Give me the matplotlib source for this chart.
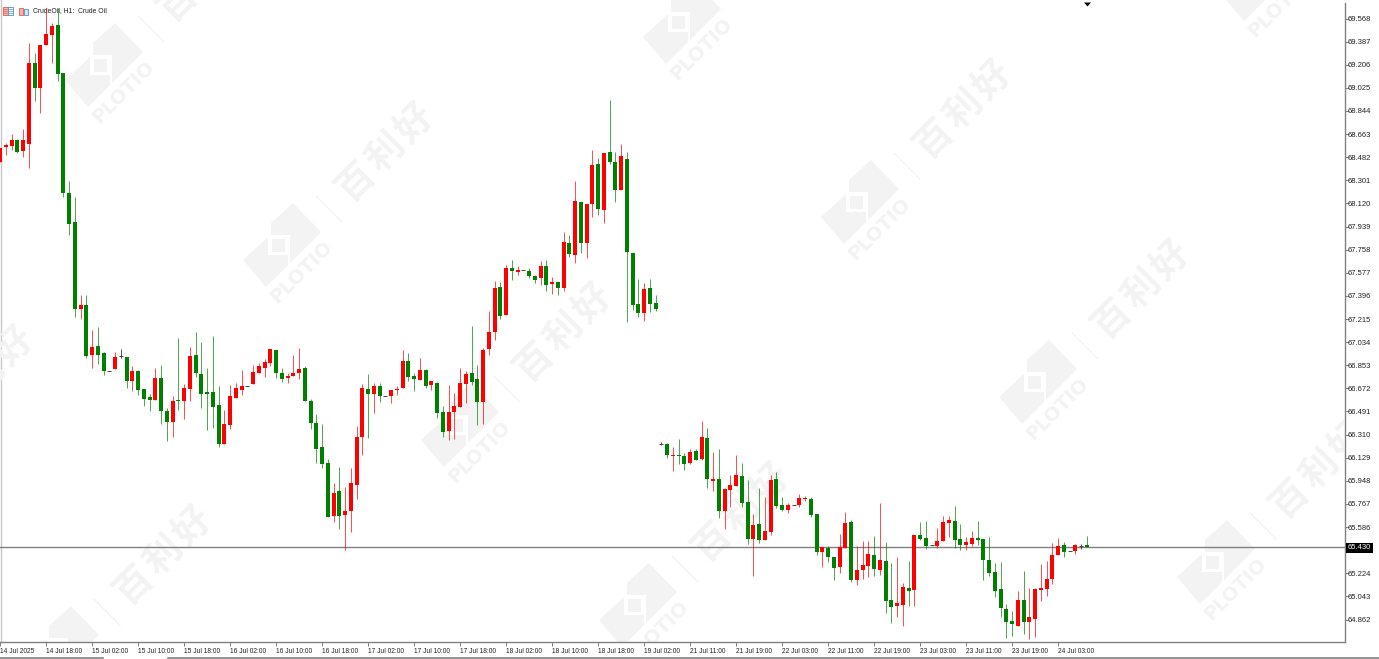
import matplotlib
matplotlib.use("Agg")
import matplotlib.pyplot as plt
from matplotlib.patches import Polygon, Rectangle

# OHLC of CrudeOil H1
opens = [
    68.445, 68.562, 68.570, 68.617, 68.531, 68.585, 69.220, 69.024, 69.361, 69.439,
    69.517, 69.141, 68.202, 67.975, 67.294, 67.325, 66.933, 67.004, 66.949, 66.808,
    66.824, 66.922, 66.918, 66.730, 66.808, 66.667, 66.605, 66.581, 66.753, 66.495,
    66.409, 66.581, 66.573, 66.667, 66.933, 66.785, 66.644, 66.644, 66.542, 66.236,
    66.385, 66.597, 66.659, 66.691, 66.706, 66.792, 66.832, 66.871, 66.973, 66.792,
    66.753, 66.769, 66.792, 66.832, 66.573, 66.401, 66.213, 66.088, 65.673, 65.869,
    65.681, 65.712, 65.915, 66.291, 66.667, 66.628, 66.691, 66.612, 66.612, 66.659,
    66.675, 66.886, 66.769, 66.738, 66.816, 66.698, 66.714, 66.487, 66.338, 66.487,
    66.526, 66.706, 66.792, 66.745, 66.565, 66.980, 67.113, 67.466, 67.246, 67.615,
    67.583, 67.599, 67.591, 67.552, 67.536, 67.630, 67.489, 67.505, 67.458, 67.810,
    67.716, 68.131, 67.810, 68.116, 68.429, 68.069, 68.523, 68.445, 68.225, 68.468,
    67.732, 67.333, 67.262, 67.458, 67.341, 66.236, 66.236, 66.143, 66.150, 66.143,
    66.088, 66.182, 66.119, 66.283, 65.947, 65.962, 65.712, 65.876, 65.908, 65.986,
    65.782, 65.493, 65.610, 65.485, 65.547, 65.962, 65.759, 65.720, 65.759, 65.759,
    65.806, 65.806, 65.688, 65.391, 65.422, 65.352, 65.273, 65.422, 65.626, 65.172,
    65.250, 65.281, 65.367, 65.250, 65.320, 65.015, 64.968, 64.976, 65.109, 65.093,
    65.524, 65.500, 65.446, 65.438, 65.477, 65.618, 65.634, 65.493, 65.446, 65.453,
    65.500, 65.493, 65.328, 65.234, 65.101, 64.944, 64.851, 64.811, 65.015, 64.843,
    64.866, 65.093, 65.101, 65.180, 65.367, 65.446, 65.399, 65.399, 65.438, 65.446,
]
highs = [
    68.554, 68.593, 68.664, 68.625, 68.703, 69.376, 69.298, 69.361, 69.650, 69.533,
    69.650, 69.141, 68.296, 68.170, 67.403, 67.403, 67.129, 67.153, 66.957, 66.808,
    66.957, 66.980, 66.918, 66.847, 66.816, 66.667, 66.628, 66.832, 66.855, 66.518,
    66.612, 67.066, 66.706, 66.996, 67.113, 67.035, 66.832, 67.082, 66.691, 66.503,
    66.698, 66.714, 66.816, 66.691, 66.855, 66.871, 66.902, 66.980, 66.973, 66.832,
    66.792, 66.933, 66.988, 66.847, 66.589, 66.471, 66.393, 66.119, 65.931, 66.056,
    65.900, 66.049, 66.377, 66.706, 66.785, 66.714, 66.714, 66.612, 66.659, 66.691,
    66.973, 66.949, 66.792, 66.910, 66.824, 66.730, 66.722, 66.534, 66.698, 66.636,
    66.832, 66.808, 67.160, 66.855, 66.988, 67.278, 67.513, 67.505, 67.638, 67.677,
    67.630, 67.599, 67.615, 67.560, 67.669, 67.677, 67.544, 67.505, 67.896, 67.873,
    68.296, 68.131, 68.116, 68.539, 68.476, 68.515, 68.930, 68.523, 68.585, 68.523,
    67.732, 67.528, 67.497, 67.528, 67.403, 66.252, 66.244, 66.213, 66.276, 66.166,
    66.197, 66.197, 66.417, 66.362, 66.174, 66.197, 65.892, 65.994, 66.150, 66.088,
    65.955, 65.688, 65.892, 65.821, 65.994, 66.017, 65.821, 65.775, 65.759, 65.845,
    65.829, 65.821, 65.688, 65.430, 65.438, 65.352, 65.532, 65.704, 65.641, 65.438,
    65.477, 65.477, 65.516, 65.775, 65.469, 65.305, 65.352, 65.148, 65.320, 65.524,
    65.626, 65.634, 65.446, 65.579, 65.673, 65.673, 65.751, 65.610, 65.508, 65.555,
    65.634, 65.493, 65.508, 65.305, 65.313, 64.984, 64.929, 65.086, 65.242, 65.109,
    65.109, 65.297, 65.320, 65.461, 65.500, 65.469, 65.399, 65.454, 65.454, 65.516,
]
lows = [
    68.445, 68.499, 68.539, 68.515, 68.484, 68.398, 68.922, 68.828, 69.361, 69.220,
    69.079, 68.170, 67.873, 67.231, 67.215, 66.910, 66.831, 66.863, 66.777, 66.808,
    66.824, 66.910, 66.675, 66.651, 66.620, 66.534, 66.495, 66.581, 66.393, 66.260,
    66.291, 66.503, 66.432, 66.573, 66.761, 66.518, 66.346, 66.362, 66.213, 66.236,
    66.354, 66.597, 66.620, 66.691, 66.706, 66.792, 66.761, 66.847, 66.753, 66.722,
    66.714, 66.769, 66.745, 66.573, 66.354, 66.088, 66.049, 65.665, 65.626, 65.571,
    65.406, 65.547, 65.806, 66.150, 66.283, 66.479, 66.565, 66.612, 66.557, 66.620,
    66.675, 66.730, 66.651, 66.738, 66.675, 66.659, 66.440, 66.291, 66.268, 66.276,
    66.526, 66.557, 66.698, 66.385, 66.393, 66.933, 67.051, 67.215, 67.246, 67.521,
    67.560, 67.599, 67.536, 67.497, 67.481, 67.434, 67.411, 67.403, 67.434, 67.701,
    67.654, 67.732, 67.693, 68.014, 68.030, 67.967, 68.429, 68.131, 68.225, 67.192,
    67.286, 67.231, 67.200, 67.270, 67.278, 66.229, 66.127, 66.025, 66.080, 66.033,
    66.080, 66.111, 66.111, 65.892, 65.868, 65.657, 65.571, 65.743, 65.908, 65.743,
    65.453, 65.203, 65.461, 65.485, 65.524, 65.735, 65.712, 65.696, 65.759, 65.743,
    65.790, 65.665, 65.367, 65.273, 65.313, 65.172, 65.226, 65.422, 65.156, 65.133,
    65.180, 65.195, 65.203, 65.211, 64.913, 64.835, 64.882, 64.811, 64.968, 64.968,
    65.485, 65.414, 65.446, 65.422, 65.477, 65.508, 65.422, 65.406, 65.406, 65.438,
    65.446, 65.172, 65.203, 65.038, 64.882, 64.717, 64.733, 64.811, 64.749, 64.710,
    64.725, 65.007, 65.046, 65.140, 65.367, 65.352, 65.399, 65.375, 65.414, 65.430,
]
closes = [
    68.554, 68.578, 68.617, 68.523, 68.617, 69.220, 69.024, 69.361, 69.447, 69.509,
    69.134, 68.202, 67.959, 67.294, 67.325, 66.926, 66.996, 66.933, 66.808, 66.808,
    66.918, 66.922, 66.730, 66.808, 66.659, 66.589, 66.581, 66.753, 66.495, 66.409,
    66.573, 66.573, 66.675, 66.926, 66.792, 66.628, 66.628, 66.526, 66.236, 66.393,
    66.612, 66.675, 66.691, 66.691, 66.800, 66.847, 66.879, 66.980, 66.792, 66.745,
    66.769, 66.792, 66.824, 66.573, 66.401, 66.197, 66.080, 65.665, 65.853, 65.673,
    65.712, 65.931, 66.291, 66.675, 66.628, 66.691, 66.612, 66.612, 66.659, 66.667,
    66.886, 66.761, 66.745, 66.816, 66.691, 66.730, 66.479, 66.330, 66.487, 66.534,
    66.714, 66.785, 66.722, 66.565, 66.973, 67.113, 67.458, 67.239, 67.615, 67.591,
    67.599, 67.599, 67.552, 67.521, 67.630, 67.481, 67.505, 67.458, 67.818, 67.724,
    68.139, 67.810, 68.116, 68.421, 68.077, 68.515, 68.445, 68.225, 68.492, 67.740,
    67.325, 67.262, 67.450, 67.333, 67.294, 66.236, 66.150, 66.150, 66.143, 66.080,
    66.174, 66.111, 66.291, 65.962, 65.962, 65.712, 65.884, 65.915, 65.994, 65.775,
    65.493, 65.602, 65.485, 65.555, 65.955, 65.751, 65.720, 65.759, 65.759, 65.814,
    65.814, 65.681, 65.391, 65.430, 65.352, 65.266, 65.430, 65.618, 65.172, 65.250,
    65.289, 65.375, 65.258, 65.328, 65.007, 64.960, 64.991, 65.117, 65.086, 65.524,
    65.493, 65.438, 65.446, 65.477, 65.626, 65.641, 65.485, 65.446, 65.469, 65.500,
    65.485, 65.328, 65.226, 65.086, 64.952, 64.843, 64.827, 65.015, 64.843, 64.882,
    65.101, 65.109, 65.180, 65.367, 65.438, 65.391, 65.399, 65.446, 65.438, 65.430,
]

price_ticks = [69.568, 69.387, 69.206, 69.025, 68.844, 68.663, 68.482, 68.301, 68.120,
               67.939, 67.758, 67.577, 67.396, 67.215, 67.034, 66.853, 66.672, 66.491,
               66.310, 66.129, 65.948, 65.767, 65.586, 65.405, 65.224, 65.043, 64.862]
time_labels = ["14 Jul 2025", "14 Jul 18:00", "15 Jul 02:00", "15 Jul 10:00", "15 Jul 18:00",
               "16 Jul 02:00", "16 Jul 10:00", "16 Jul 18:00", "17 Jul 02:00", "17 Jul 10:00",
               "17 Jul 18:00", "18 Jul 02:00", "18 Jul 10:00", "18 Jul 18:00", "19 Jul 02:00",
               "21 Jul 11:00", "21 Jul 19:00", "22 Jul 03:00", "22 Jul 11:00", "22 Jul 19:00",
               "23 Jul 03:00", "23 Jul 11:00", "23 Jul 19:00", "24 Jul 03:00"]
last_price = 65.430

W, H = 1379, 659
UP = "#ff0000"
DOWN = "#008000"
MARK = "#f3f3f3"
GRAY = "#808080"
FONT = "Liberation Sans"

fig = plt.figure(figsize=(W / 100, H / 100), dpi=100, facecolor="white")

# backdrop in pixel coordinates: watermarks, window furniture
bg = fig.add_axes([0, 0, 1, 1], zorder=0)
bg.set_xlim(0, W)
bg.set_ylim(H, 0)
bg.axis("off")
clip = Rectangle((0, 0), 1344, 642, transform=bg.transData)


def draw_logo(x, y):
    upper = [(-7, -22), (15, -42), (43, -13), (12, 18), (12, -10), (-7, -10)]
    lower = [(-35, 15), (-10, -8), (-10, 10), (10, 10), (10, 20), (-12, 42)]
    inner = [(-6, -6), (7, -6), (7, 7), (-6, 7)]
    for pts in (upper, lower, inner):
        p = Polygon([(x + a, y + b) for a, b in pts], fc=MARK, ec="none")
        bg.add_patch(p)
        p.set_clip_path(clip)
    t = bg.text(x + 23, y + 27, "PLOTIO", fontsize=14, fontweight="bold", color=MARK,
                rotation=45, ha="center", va="center", family="DejaVu Sans",
                rotation_mode="anchor", clip_on=True)
    t.set_clip_path(clip)
    l, = bg.plot([x + 38, x + 64], [y - 49, y - 23], color=MARK, lw=1)
    l.set_clip_path(clip)


def draw_brand(x, y):
    for k, ch in enumerate("百利好"):
        t = bg.text(x + (k - 1) * 29, y - (k - 1) * 29, ch, fontsize=27, fontweight="bold",
                    color=MARK, rotation=45, ha="center", va="center",
                    family="Noto Sans CJK SC", rotation_mode="anchor", clip_on=True)
        t.set_clip_path(clip)


logos = [(100, 65), (278, 245), (456, 425), (634, 605), (856, 202),
         (1034, 382), (1212, 562), (56, 648), (678, 22), (1256, -21)]
brands = [(207, -28), (385, 152), (563, 332), (741, 512), (963, 109),
          (1141, 289), (1319, 469), (163, 555), (-15, 375)]
for lx, ly in logos:
    draw_logo(lx, ly)
for bx, by in brands:
    draw_brand(bx, by)

# top-left chart icons
bg.add_patch(Rectangle((3, 7), 5, 7.5, fc="#f6b5b0", ec="#e8584f", lw=0.6))
bg.add_patch(Rectangle((8, 7), 5, 7.5, fc="white", ec="#4a90c8", lw=0.6))
for iy in (9, 11, 13):
    bg.plot([4, 7], [iy, iy], color="#e8584f", lw=0.5)
    bg.plot([9, 12], [iy, iy], color="#4a90c8", lw=0.5)
bg.add_patch(Rectangle((18.5, 8), 4, 6.5, fc="#f6b5b0", ec="#e8584f", lw=0.6))
bg.add_patch(Rectangle((24, 9), 4, 5.5, fc="#d4e8f5", ec="#4a90c8", lw=0.6))
bg.text(33, 10.5, "CrudeOil, H1:  Crude Oil", fontsize=4.9, color="#222222",
        va="center", family=FONT, zorder=20)

# black marker on top of the window
bg.add_patch(Polygon([(1084, 2.5), (1091, 2.5), (1087.5, 6.5)], fc="black", ec="none"))

# tab strip under the chart
bg.plot([0, 103], [657.5, 657.5], color=GRAY, lw=1.2)
bg.plot([168, W], [657.5, 657.5], color=GRAY, lw=1.2)
bg.plot([0.5, 0.5], [0, 642], color="#c8c8c8", lw=1)

# price pane
ax = fig.add_axes([0, 1 - 642 / H, 1345 / W, 642 / H], zorder=1)
ax.patch.set_alpha(0)
ax.set_xlim(-0.03, 1345 / 5.75)
ax.set_ylim(64.686, 69.713)

for i, (o, h, l, c) in enumerate(zip(opens, highs, lows, closes)):
    if o == c:
        ax.vlines(i, l, h, color="#333333", lw=0.6, zorder=3)
        ax.hlines(o, i - 0.35, i + 0.35, color="#444444", lw=0.7, zorder=3)
        continue
    col = UP if c > o else DOWN
    ax.vlines(i, l, h, color=col, lw=0.7, alpha=0.7, zorder=3)
    ax.bar(i, abs(c - o), bottom=min(o, c), width=0.7, color=col, lw=0, zorder=4)

ax.axhline(last_price, color=GRAY, lw=1, zorder=2)

ax.yaxis.tick_right()
ax.set_yticks(price_ticks)
ax.set_yticklabels([f"{v:.3f}" for v in price_ticks], fontsize=5.5, family=FONT, color="#222222")
ax.set_xticks(range(0, len(time_labels) * 8, 8))
ax.set_xticklabels(time_labels, fontsize=4.8, family=FONT, color="#222222", ha="left")
ax.tick_params(axis="y", length=3, width=0.7, color=GRAY, pad=-1)
ax.tick_params(axis="x", length=3, width=0.7, color=GRAY, pad=1)

for side in ("top", "left"):
    ax.spines[side].set_visible(False)
for side in ("right", "bottom"):
    ax.spines[side].set_color(GRAY)
    ax.spines[side].set_linewidth(1)
ax.spines["right"].set_bounds(64.686, 69.69)

# last price tag
ax.text(1.0022, last_price - 0.006, f"{last_price:.3f}", transform=ax.get_yaxis_transform(),
        fontsize=5.5, family=FONT, color="white", va="center", ha="left", clip_on=False, zorder=10,
        bbox=dict(boxstyle="square,pad=0.2", fc="black", ec="black", lw=0))

fig.savefig("out.png", dpi=100)
plt.close(fig)
